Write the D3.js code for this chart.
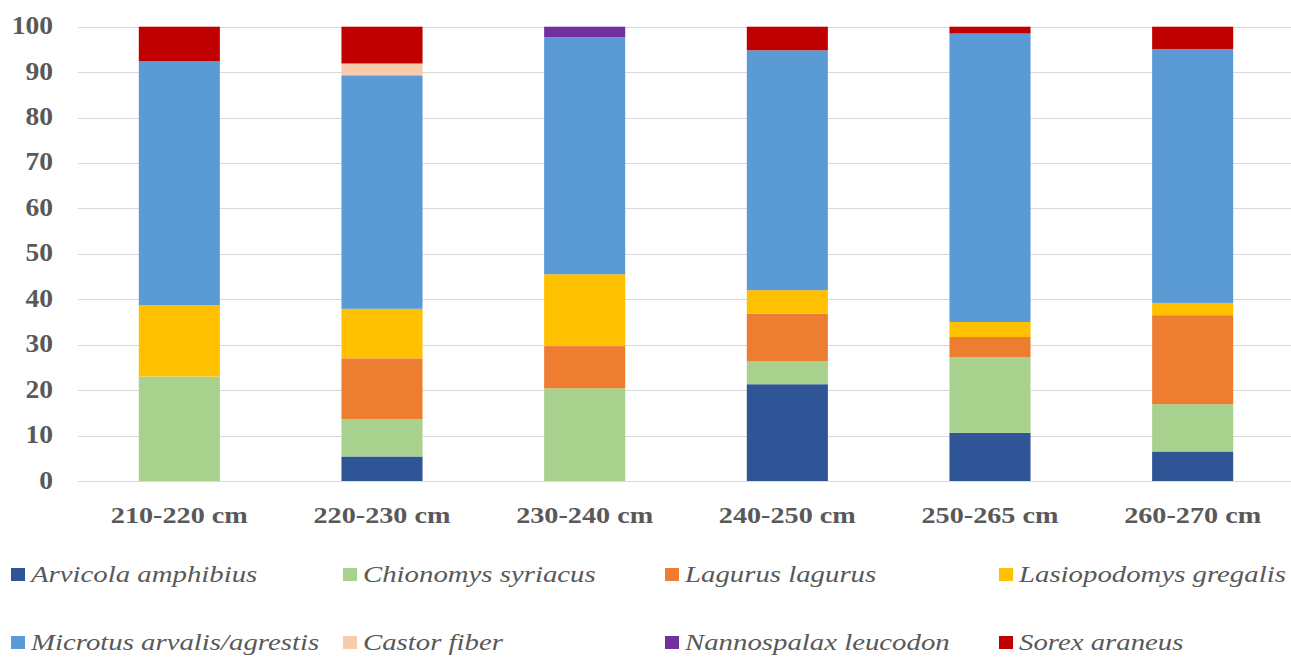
<!DOCTYPE html>
<html><head><meta charset="utf-8">
<script src="https://cdn.jsdelivr.net/npm/d3@7"></script>
<style>
html,body{margin:0;padding:0;background:#fff;overflow:hidden}
svg{display:block}
</style></head>
<body>
<svg id="chart" width="1291" height="657"></svg>
<script>
const categories = ["210-220 cm","220-230 cm","230-240 cm","240-250 cm","250-265 cm","260-270 cm"];
const species = ["Arvicola amphibius","Chionomys syriacus","Lagurus lagurus","Lasiopodomys gregalis","Microtus arvalis/agrestis","Castor fiber","Nannospalax leucodon","Sorex araneus"];
const colors = ["#2F5597","#A9D18E","#ED7D31","#FFC000","#5B9BD5","#F8CBAD","#7030A0","#C00000"];
const arvicola     = [0,   5.4, 0,    21.3, 10.6, 6.5];
const chionomys    = [23.0,8.2, 20.4, 5.1,  16.7, 10.4];
const lagurus      = [0,   13.4,9.3,  10.4, 4.4,  19.6];
const lasiopodomys = [15.7,10.9,15.8, 5.2,  3.3,  2.7];
const microtus     = [53.7,51.4,52.2, 52.8, 63.5, 55.9];
const castor       = [0,   2.6, 0,    0,    0,    0];
const nannospalax  = [0,   0,   2.3,  0,    0,    0];
const sorex        = [7.6, 8.1, 0,    5.2,  1.5,  4.9];
const yTicks = [0,10,20,30,40,50,60,70,80,90,100];

const seriesValues = [arvicola,chionomys,lagurus,lasiopodomys,microtus,castor,nannospalax,sorex];
const rows = categories.map((c,i)=>{const r={cat:c}; species.forEach((s,j)=>r[s]=seriesValues[j][i]); return r;});
const stacked = d3.stack().keys(species)(rows);

const svg = d3.select("#chart");
const plotL = 78, plotR = 1294, plotT = 26.7, plotB = 481;
const x = d3.scaleBand().domain(categories).range([plotL,plotR]).padding(0);
const y = d3.scaleLinear().domain([0,100]).range([plotB,plotT]);
const barW = x.bandwidth()*0.4;
const textColor = "#595959";
const serif = "'Liberation Serif','Times New Roman',serif";

// gridlines
svg.append("g").selectAll("line").data(yTicks).join("line")
  .attr("x1",plotL).attr("x2",1291)
  .attr("y1",d=>Math.round(y(d))+0.5).attr("y2",d=>Math.round(y(d))+0.5)
  .attr("stroke","#D9D9D9").attr("stroke-width",1.2);

// y tick labels
svg.append("g").selectAll("text").data(yTicks).join("text")
  .attr("transform",d=>`translate(53,${y(d)+7.5}) scale(1.1,1)`)
  .attr("text-anchor","end")
  .attr("font-family",serif).attr("font-weight","bold").attr("font-size",25)
  .attr("fill",textColor).text(d=>d);

// bars
svg.append("g").selectAll("g").data(stacked).join("g")
  .attr("fill",(d,i)=>colors[i])
  .selectAll("rect").data(d=>d).join("rect")
  .attr("x",d=>x(d.data.cat)+x.bandwidth()/2-barW/2)
  .attr("width",barW)
  .attr("y",d=>y(d[1]))
  .attr("height",d=>Math.max(0,y(d[0])-y(d[1])));

// category labels
svg.append("g").selectAll("text").data(categories).join("text")
  .attr("transform",d=>`translate(${x(d)+x.bandwidth()/2},523) scale(1.2,1)`)
  .attr("text-anchor","middle")
  .attr("font-family",serif).attr("font-weight","bold").attr("font-size",23.5)
  .attr("fill",textColor).text(d=>d);

// legend
const legX = [11,343,665,999], legY = [582,650];
const leg = svg.append("g").selectAll("g").data(species).join("g")
  .attr("transform",(d,i)=>`translate(${legX[i%4]},${legY[Math.floor(i/4)]})`);
leg.append("rect").attr("x",0).attr("y",-14).attr("width",14).attr("height",13)
  .attr("fill",(d,i)=>colors[i]);
leg.append("text").attr("transform","translate(20,0) scale(1.2,1)")
  .attr("font-family",serif).attr("font-style","italic").attr("font-size",24)
  .attr("fill",textColor).text(d=>d);
</script>
</body></html>
